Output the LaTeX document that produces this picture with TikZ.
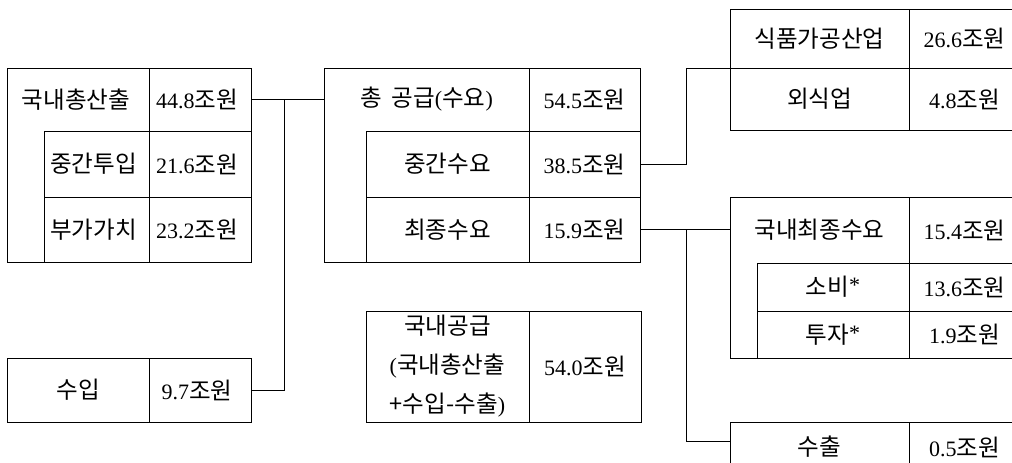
\documentclass[tikz,border=0pt]{standalone}
\usepackage{fontspec}
\setmainfont{Liberation Serif}
\newfontfamily\kr{Noto Sans CJK KR}[Scale=1.07]
\newcommand\mkcell[6]{\node[cell, minimum width={#4-#2}, minimum height={#5-#3}] (#1) at ({(#2+#4)/2},{(#3+#5)/2}) {#6};}
\newcommand\won{{\kr 조원}}
\newcommand\myast{\raisebox{3pt}{*}}
\begin{document}
\begin{tikzpicture}[x=1pt,y=-1pt, line width=1pt,
  every node/.style={font=\fontsize{22}{39}\selectfont},
  cell/.style={draw, rectangle, inner sep=0pt, outer sep=0pt, align=center},
  lbl/.style={inner sep=0pt, outer sep=0pt}]
\useasboundingbox (0,0) rectangle (1012,463);
% left block
\mkcell{prod}{7}{68}{251}{262}{}
\node[lbl] (prodt) at (76,99.5) {\kr 국내총산출};
\mkcell{prodv}{149}{68}{251}{131}{44.8\won\hspace{6pt}}
\mkcell{mid}{44}{131}{149}{197}{{\kr 중간투입}\hspace{6pt}}
\mkcell{midv}{149}{131}{251}{197}{21.6\won\hspace{6pt}}
\mkcell{va}{44}{197}{149}{262}{{\kr 부가가치}\hspace{6pt}}
\mkcell{vav}{149}{197}{251}{262}{23.2\won\hspace{6pt}}
% import
\mkcell{imp}{7}{358}{149}{422}{\kr 수입}
\mkcell{impv}{149}{358}{251}{422}{9.7\won\hspace{6pt}}
% center block
\mkcell{sup}{324}{68}{640}{262}{}
\node[lbl] (supt) at (426.5,99.5) {{\kr 총}\hspace{0.45em}{\kr 공급}({\kr 수요})};
\mkcell{supv}{529}{68}{640}{131}{54.5\won}
\mkcell{idem}{366}{131}{529}{197}{\kr 중간수요}
\mkcell{idemv}{529}{131}{640}{197}{38.5\won}
\mkcell{fdem}{366}{197}{529}{262}{\kr 최종수요}
\mkcell{fdemv}{529}{197}{640}{262}{15.9\won}
% domestic supply
\mkcell{dsup}{366}{311}{529}{422}{{\kr 국내공급}\\({\kr 국내총산출}\\{\kr +수입-수출})}
\mkcell{dsupv}{529}{311}{641}{422}{54.0\won}
% right top
\mkcell{food}{730}{9}{909}{68}{\kr 식품가공산업}
\mkcell{foodv}{909}{9}{1020}{68}{26.6\won}
\mkcell{rest}{730}{68}{909}{130}{\kr 외식업}
\mkcell{restv}{909}{68}{1020}{130}{4.8\won}
% right middle
\mkcell{dfin}{730}{197}{1020}{358}{}
\node[lbl] (dfint) at (819.5,230) {\kr 국내최종수요};
\mkcell{dfinv}{909}{197}{1020}{263}{15.4\won}
\mkcell{cons}{757}{263}{909}{311}{{\kr 소비}\myast}
\mkcell{consv}{909}{263}{1020}{311}{13.6\won}
\mkcell{inv}{757}{311}{909}{358}{{\kr 투자}\myast}
\mkcell{invv}{909}{311}{1020}{358}{1.9\won}
% export
\mkcell{exp}{730}{422}{909}{472}{\kr 수출}
\mkcell{expv}{909}{422}{1020}{472}{0.5\won}
% connectors
\coordinate (jL) at (284,99.5);
\coordinate (jT) at (686,68);
\coordinate (jM) at (686,229.5);
\coordinate (jE) at (686,441);
\draw (prodv.east) -- (prodv.east -| sup.west);
\draw (impv.east) -| (jL);
\draw (idemv.east) -| (jT) -- (food.south west);
\draw (fdemv.east) -- (fdemv.east -| dfin.west);
\draw (jM) -- (jE) -- (jE -| exp.west);
\end{tikzpicture}
\end{document}
